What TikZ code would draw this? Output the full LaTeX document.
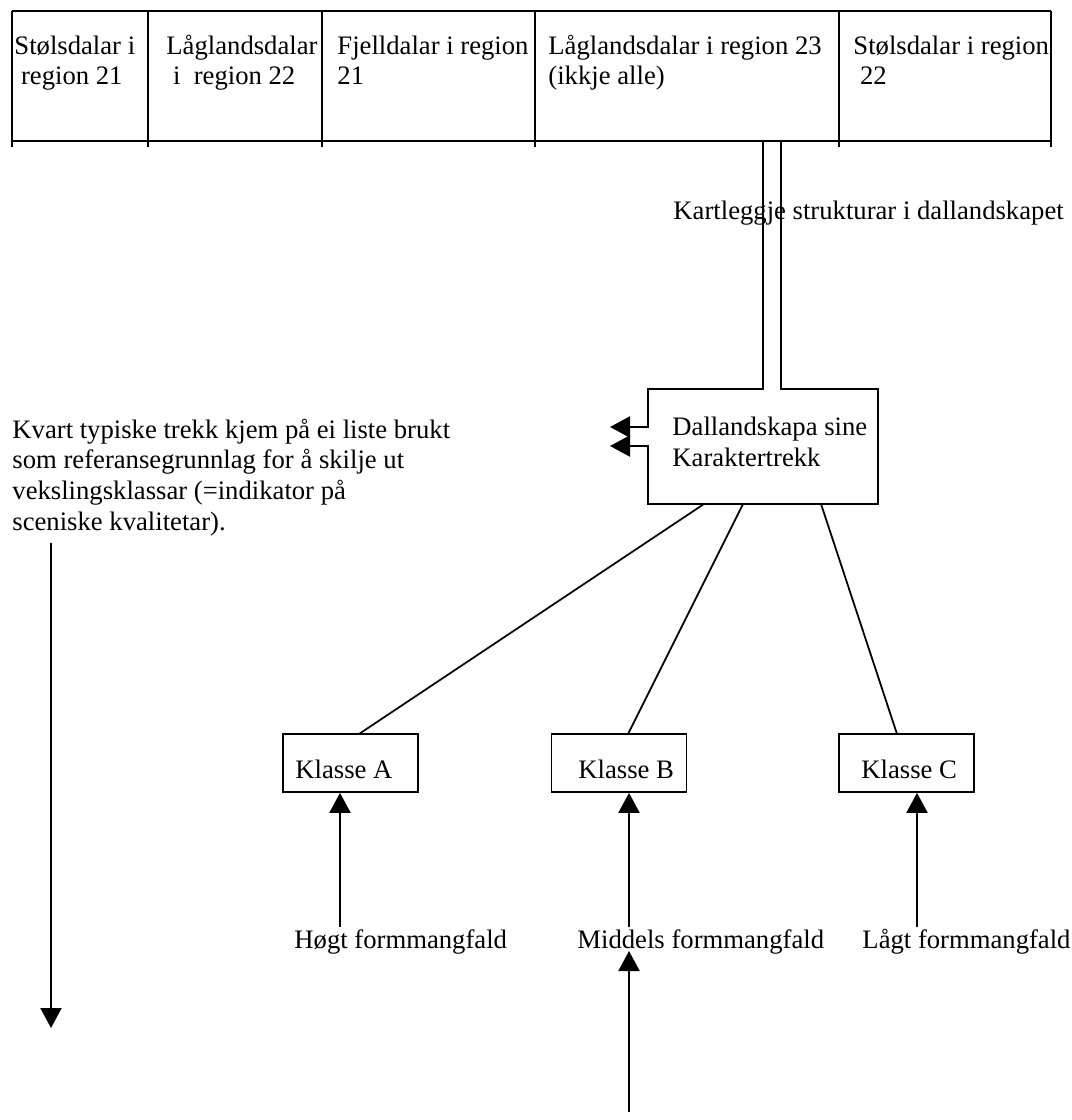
\documentclass[tikz,border=0pt]{standalone}
\usepackage{fontspec}
\setmainfont{Liberation Serif}
\usetikzlibrary{arrows.meta}
\begin{document}
\begin{tikzpicture}[x=0.45pt,y=-0.45pt,
  ln/.style={line width=0.8pt, black},
  arr/.style={ln, -{Triangle[length=9pt,width=9.5pt]}},
  txt/.style={inner sep=0pt, anchor=base west, align=left, font=\fontsize{12pt}{13.8pt}\selectfont},
  klbox/.style={draw, line width=0.8pt, minimum width=60.75pt, minimum height=26.1pt, inner sep=0pt}]
\useasboundingbox[fill=white] (0,0) rectangle (1071,1120);
% table
\draw[ln] (12,11) -- (1051,11);
\draw[ln] (12,141) -- (1051,141);
\foreach \x in {12,148,322,535,839,1051} \draw[ln] (\x,11) -- (\x,147);
\node[txt] (c1) at (14,85) {Stølsdalar i\\\ region 21};
\node[txt] (c2) at (166,85) {Låglandsdalar\\\ i\ \ region 22};
\node[txt] (c3) at (337,85) {Fjelldalar i region\\21};
\node[txt] (c4) at (548,85) {Låglandsdalar i region 23\\(ikkje alle)};
\node[txt] (c5) at (853,85) {Stølsdalar i region\\\ 22};
% channel and box
\coordinate (tl) at (763,141);
\coordinate (tr) at (781,141);
\coordinate (o1) at (610,427);
\coordinate (o2) at (610,446);
\draw[arr] (tl) -- (763,389) -- (648,389) -- (648,427) -- (o1);
\draw[arr] (tr) -- (781,389) -- (878,389) -- (878,504) -- (648,504) -- (648,446) -- (o2);
\node[txt] (kart) at (673,220) {Kartleggje strukturar i dallandskapet};
\node[txt] (dal) at (672,466) {Dallandskapa sine\\Karaktertrekk};
% left text and arrow
\node[txt] (kvart) at (12,530) {Kvart typiske trekk kjem på ei liste brukt\\som referansegrunnlag for å skilje ut\\vekslingsklassar (=indikator på\\sceniske kvalitetar).};
\coordinate (ls) at (51,543);
\coordinate (le) at (51,1028);
\draw[arr] (ls) -- (le);
% classes
\node[klbox] (ka) at (350.5,763) {};
\node[klbox] (kb) at (619,763) {};
\node[klbox] (kc) at (906.5,763) {};
\node[txt] (kat) at (295,778) {Klasse A};
\node[txt] (kbt) at (578,778) {Klasse B};
\node[txt] (kct) at (861,778) {Klasse C};
\coordinate (dA) at (704,504);
\coordinate (dB) at (743,504);
\coordinate (dC) at (821,504);
\coordinate (tA) at (359,734);
\coordinate (tB) at (628,734);
\coordinate (tC) at (897,734);
\draw[ln] (dA) -- (tA);
\draw[ln] (dB) -- (tB);
\draw[ln] (dC) -- (tC);
% labels
\node[txt] (hogt) at (294,948) {Høgt formmangfald};
\node[txt] (mid) at (577,948) {Middels formmangfald};
\node[txt] (lagt) at (862,948) {Lågt formmangfald};
\coordinate (aA) at (340,927);
\coordinate (aB) at (629,927);
\coordinate (aC) at (917,927);
\draw[arr] (aA) -- (aA |- ka.south);
\draw[arr] (aB) -- (aB |- kb.south);
\draw[arr] (aC) -- (aC |- kc.south);
\coordinate (bs) at (629,1112);
\coordinate (be) at (629,951);
\draw[arr] (bs) -- (be);
\end{tikzpicture}
\end{document}
